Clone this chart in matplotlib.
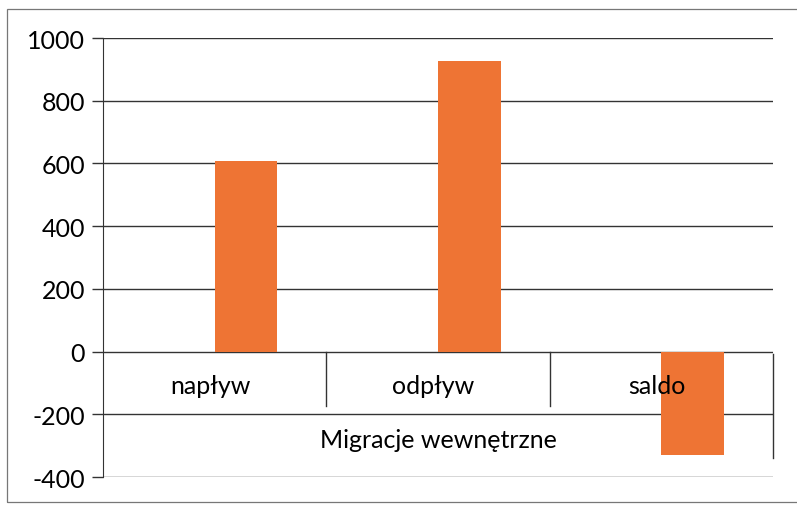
import matplotlib.pyplot as plt
from matplotlib.patches import Rectangle

# DATA
categories = ["napływ", "odpływ", "saldo"]
values = [608, 927, -331]
group_label = "Migracje wewnętrzne"
yticks = [-400, -200, 0, 200, 400, 600, 800, 1000]

plt.rcParams['font.family'] = ['Lato', 'DejaVu Sans']

fig = plt.figure(figsize=(7.97, 5.06), dpi=100)
ax = fig.add_axes([0.1292, 0.0553, 0.8407, 0.8676])

# chart border
fig.patches.append(Rectangle((0.009, 0.006), 1.2, 0.975, transform=fig.transFigure,
                             fill=False, edgecolor='#777777', linewidth=0.9))

# BARS (first series in the cluster is empty, so bars sit right of center)
x = range(len(categories))
ax.bar(x, values, width=0.28, align='edge', color='#EE7434', zorder=2)

ax.set_xlim(-0.5, 2.5)
ax.set_ylim(-400, 1000)
ax.set_yticks(yticks)
ax.set_yticklabels([str(v) for v in yticks], fontsize=18)
ax.set_xticks([])
ax.tick_params(axis='y', length=8, width=1, color='#333333', pad=5)

for s in ['top', 'right', 'bottom']:
    ax.spines[s].set_visible(False)
ax.spines['left'].set_color('#333333')

ax.yaxis.grid(True, color='#333333', linewidth=1)
ax.set_axisbelow(True)

# category axis (multi-level)
for b in [0.5, 1.5]:
    ax.plot([b, b], [0, -172], color='#333333', linewidth=1, zorder=1)
ax.plot([2.5, 2.5], [-8, -340], color='#333333', linewidth=1, zorder=1,
        clip_on=False)

for i, c in enumerate(categories):
    ax.text(i - 0.02, -108, c, ha='center', va='center', fontsize=18, zorder=3)
ax.text(1.0, -280, group_label, ha='center', va='center', fontsize=18, zorder=3)

fig.savefig("out.png", dpi=100)
